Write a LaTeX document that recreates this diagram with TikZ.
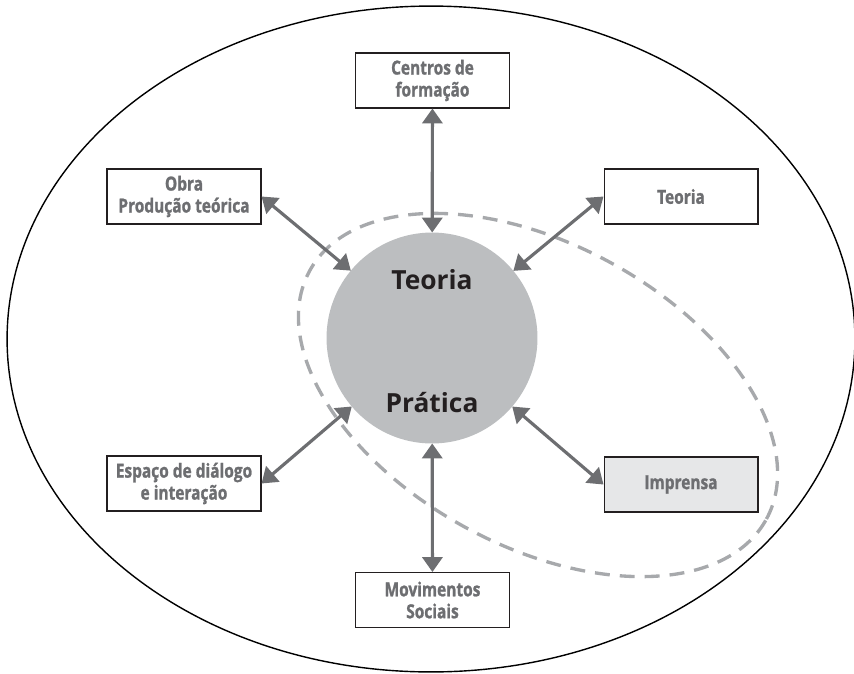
\documentclass[tikz,border=0pt]{standalone}
\usepackage{fontspec}
\setmainfont{Open Sans}
\newfontfamily\narrowfont[FakeStretch=0.8, FakeBold=1.2, BoldFont={Open Sans Bold}]{Open Sans}
\usetikzlibrary{arrows.meta}
\definecolor{arrowgray}{HTML}{6D6E71}
\definecolor{dashgray}{HTML}{A7A9AC}
\definecolor{circlegray}{HTML}{BCBEC0}
\definecolor{pressgray}{HTML}{E6E7E8}
\definecolor{framegray}{HTML}{231F20}

\begin{document}
\begin{tikzpicture}[x=0.02cm, y=-0.02cm,
  box/.style={draw=framegray, line width=0.6pt, fill=white, minimum width=3.08cm, minimum height=1.1cm, inner sep=0pt, align=center, text=arrowgray, font=\narrowfont\bfseries\fontsize{11}{12.5}\selectfont},
  link/.style={{Triangle[length=8.5pt,width=11.5pt]}-{Triangle[length=8.5pt,width=11.5pt]}, line width=1.8pt, arrowgray},
  coretext/.style={font=\bfseries\fontsize{15}{18}\selectfont, text=framegray, anchor=base}]
\useasboundingbox (0,0) rectangle (854,673);

% Outer ellipse
\draw[line width=0.8pt] (431,339) ellipse [x radius=8.48cm, y radius=6.66cm];

% Dashed region
\draw[dashgray, line width=1.9pt, dash pattern=on 8.5pt off 5.7pt, rotate around={-28.5:(538,395)}] (538,395) ellipse [x radius=5.2cm, y radius=3.02cm];

% Centre circle
\node[circle, fill=circlegray, minimum size=4.22cm, inner sep=0pt, outer sep=0pt] (core) at (432,338) {};
\node[coretext] (teoriatext) at (432,289) {Teoria};
\node[coretext] (praticatext) at (432,412) {Prática};

% Boxes
\node[box] (centros) at (432.5,80.5) {Centros de\\formação};
\node[box] (obra) at (184,196.5) {Obra\\Produção teórica};
\node[box] (teoria) at (681,196.5) {Teoria};
\node[box] (espaco) at (184,483.5) {Espaço de diálogo\\e interação};
\node[box, fill=pressgray] (imprensa) at (681,484.5) {Imprensa};
\node[box] (movimentos) at (432.5,600) {Movimentos\\Sociais};

% Links
\draw[link] (centros) -- (core);
\draw[link] (obra.east) -- (core);
\draw[link] (teoria.west) -- (core);
\draw[link] (espaco.east) -- (core);
\draw[link] (imprensa.west) -- (core);
\draw[link] (movimentos) -- (core);
\end{tikzpicture}
\end{document}
